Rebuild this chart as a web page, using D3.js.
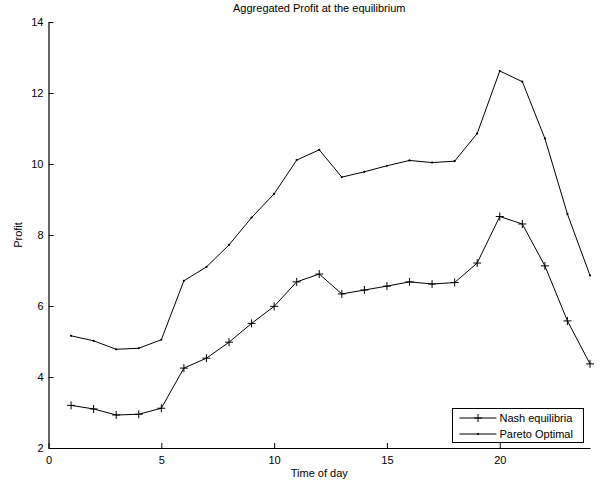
<!DOCTYPE html>
<html>
<head>
<meta charset="utf-8">
<script src="https://cdn.jsdelivr.net/npm/d3@7"></script>
<style>
  body { margin: 0; background: #fff; }
  svg text { font-family: "Liberation Sans", Arial, Helvetica, sans-serif; }
</style>
</head>
<body>
<div id="chart"></div>
<script>
const w = 603;
const h = 485;

const hours = d3.range(1, 25);
const nash = [3.2, 3.1, 2.93, 2.95, 3.12, 4.25, 4.53, 4.98, 5.51, 5.99, 6.68, 6.9,
	6.34, 6.45, 6.56, 6.68, 6.62, 6.66, 7.21, 8.52, 8.31, 7.13, 5.58, 4.37];
const pareto = [5.16, 5.02, 4.78, 4.81, 5.05, 6.71, 7.1, 7.72, 8.49, 9.16, 10.11, 10.4,
	9.63, 9.78, 9.95, 10.1, 10.04, 10.08, 10.86, 12.62, 12.32, 10.72, 8.59, 6.86];
const xTicks = [0, 5, 10, 15, 20];
const yTicks = [2, 4, 6, 8, 10, 12, 14];

const margin = {left: 48.5, right: 13, top: 22, bottom: 37};

const svg = d3
	.select('#chart')
	.append('svg')
	.attr('width', w)
	.attr('height', h);

const xScale = d3.scaleLinear().domain([0, 24]).range([margin.left, w - margin.right]);
const yScale = d3.scaleLinear().domain([2, 14]).range([h - margin.bottom, margin.top]);

// axes, ticks pointing inwards
const xAxis = d3.axisBottom(xScale).tickValues(xTicks).tickSizeInner(-5).tickSizeOuter(0).tickPadding(8);
const yAxis = d3.axisLeft(yScale).tickValues(yTicks).tickSizeInner(-5).tickSizeOuter(0).tickPadding(5);

const gx = svg.append('g')
	.attr('transform', `translate(0, ${h - margin.bottom})`)
	.call(xAxis);
const gy = svg.append('g')
	.attr('transform', `translate(${margin.left}, 0)`)
	.call(yAxis);

[gx, gy].forEach(g => {
	g.select('.domain').attr('stroke', '#000').attr('stroke-width', 1.2);
	g.selectAll('.tick line').attr('stroke', '#000');
	g.selectAll('.tick text').attr('fill', '#000').style('font-size', '11px');
});
gy.selectAll('.tick text').attr('dy', '0.32em');

const line = d3.line()
	.x((d, i) => xScale(hours[i]))
	.y(d => yScale(d));

svg.append('path')
	.datum(pareto)
	.attr('d', line)
	.attr('fill', 'none')
	.attr('stroke', '#000')
	.attr('stroke-width', 1);

svg.append('path')
	.datum(nash)
	.attr('d', line)
	.attr('fill', 'none')
	.attr('stroke', '#000')
	.attr('stroke-width', 1);

svg.selectAll('circle.pareto')
	.data(pareto)
	.enter()
	.append('circle')
	.attr('class', 'pareto')
	.attr('cx', (d, i) => xScale(hours[i]))
	.attr('cy', d => yScale(d))
	.attr('r', 1.1)
	.attr('fill', '#000');

const plus = d3.symbol().type(d3.symbolCross);
const plusPath = s => `M${-s},0H${s}M0,${-s}V${s}`;

svg.selectAll('path.nash')
	.data(nash)
	.enter()
	.append('path')
	.attr('class', 'nash')
	.attr('transform', (d, i) => `translate(${xScale(hours[i])}, ${yScale(d)})`)
	.attr('d', plusPath(4))
	.attr('stroke', '#000')
	.attr('stroke-width', 1);

// labels
svg.append('text')
	.attr('x', (margin.left + w - margin.right) / 2)
	.attr('y', 12)
	.style('text-anchor', 'middle')
	.style('font-size', '11px')
	.text('Aggregated Profit at the equilibrium');

svg.append('text')
	.attr('x', (margin.left + w - margin.right) / 2)
	.attr('y', 477)
	.style('text-anchor', 'middle')
	.style('font-size', '11px')
	.text('Time of day');

svg.append('text')
	.attr('transform', `translate(22, ${(margin.top + h - margin.bottom) / 2}) rotate(-90)`)
	.style('text-anchor', 'middle')
	.style('font-size', '11px')
	.text('Profit');

// legend
const legend = svg.append('g').attr('transform', 'translate(452.5, 408.5)');
legend.append('rect')
	.attr('width', 131)
	.attr('height', 34)
	.attr('fill', '#fff')
	.attr('stroke', '#000')
	.attr('stroke-width', 1);

const items = [{name: 'Nash equilibria', type: 'nash'}, {name: 'Pareto Optimal', type: 'pareto'}];
items.forEach((it, i) => {
	const y = 9.5 + i * 16;
	legend.append('line')
		.attr('x1', 7).attr('x2', 44)
		.attr('y1', y).attr('y2', y)
		.attr('stroke', '#000');
	if (it.type === 'nash') {
		legend.append('path')
			.attr('transform', `translate(25.5, ${y})`)
			.attr('d', plusPath(4))
			.attr('stroke', '#000');
	} else {
		legend.append('circle')
			.attr('cx', 25.5).attr('cy', y).attr('r', 1.1).attr('fill', '#000');
	}
	legend.append('text')
		.attr('x', 47)
		.attr('y', y)
		.attr('dy', '0.35em')
		.style('font-size', '11px')
		.text(it.name);
});
</script>
</body>
</html>
